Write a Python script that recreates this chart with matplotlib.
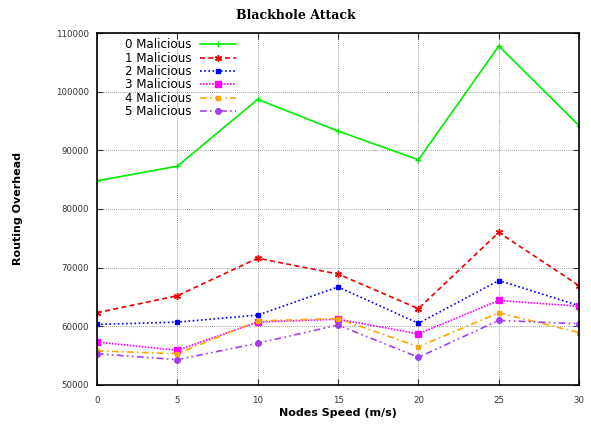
import matplotlib
matplotlib.use('Agg')
import matplotlib.pyplot as plt

# node speed (m/s) and routing overhead per number of malicious nodes
speed = [0, 5, 10, 15, 20, 25, 30]
mal0 = [84800, 87300, 98700, 93300, 88400, 107800, 94200]
mal1 = [62300, 65200, 71600, 68900, 63000, 76000, 66900]
mal2 = [60300, 60700, 61900, 66700, 60500, 67800, 63500]
mal3 = [57300, 55900, 60700, 61200, 58700, 64400, 63400]
mal4 = [55800, 55300, 60900, 61300, 56500, 62300, 58900]
mal5 = [55300, 54300, 57100, 60200, 54700, 61000, 60400]

series = [
    ('0 Malicious', mal0, '#00ee00', '-', '+', 5),
    ('1 Malicious', mal1, '#ee0000', (0, (3, 2)), (6, 2, 0), 5),
    ('2 Malicious', mal2, '#0000ff', (0, (1, 1.5)), 's', 3.5),
    ('3 Malicious', mal3, '#ff00ff', (0, (1, 0.8)), 's', 4.5),
    ('4 Malicious', mal4, '#ffa500', (0, (4, 2, 1, 2)), 's', 3.5),
    ('5 Malicious', mal5, '#a040f0', (0, (4, 2, 1, 2, 1, 2)), 'o', 4),
]

fig = plt.figure(figsize=(5.91, 4.30), dpi=100)
ax = fig.add_axes([0.164, 0.105, 0.816, 0.818])

for label, vals, color, ls, mk, ms in series:
    ax.plot(speed, vals, color=color, linestyle=ls, linewidth=1.2,
            marker=mk, markersize=ms, markeredgewidth=1.0, label=label)

ax.set_xlim(0, 30)
ax.set_ylim(50000, 110000)
ax.set_xticks(speed)
ax.set_yticks(range(50000, 110001, 10000))
ax.tick_params(direction='in', top=True, right=True, length=4, width=0.8,
               labelsize=6.2, colors='#333333')
ax.tick_params(axis='y', pad=6)
ax.tick_params(axis='x', pad=8)
for s in ax.spines.values():
    s.set_linewidth(1.2)
ax.grid(True, color='#444444', linestyle=(0, (1, 1.5)), linewidth=0.6, alpha=0.7)

fig.text(0.5, 0.965, 'Blackhole Attack', ha='center', va='center',
         fontsize=9, fontweight='bold', family='DejaVu Serif')
ax.set_xlabel('Nodes Speed (m/s)', fontsize=8, fontweight='bold', va='center')
ax.set_ylabel('Routing Overhead', fontsize=8, fontweight='bold', va='center')
ax.xaxis.set_label_coords(0.5, -0.08)
ax.yaxis.set_label_coords(-0.164, 0.5)

ax.legend(loc='upper right', bbox_to_anchor=(0.288, 0.985), frameon=False,
          markerfirst=False, fontsize=8.6, labelspacing=0.03, handlelength=3.0,
          handletextpad=0.7, borderaxespad=0, borderpad=0)

fig.savefig('out.png', dpi=100)
